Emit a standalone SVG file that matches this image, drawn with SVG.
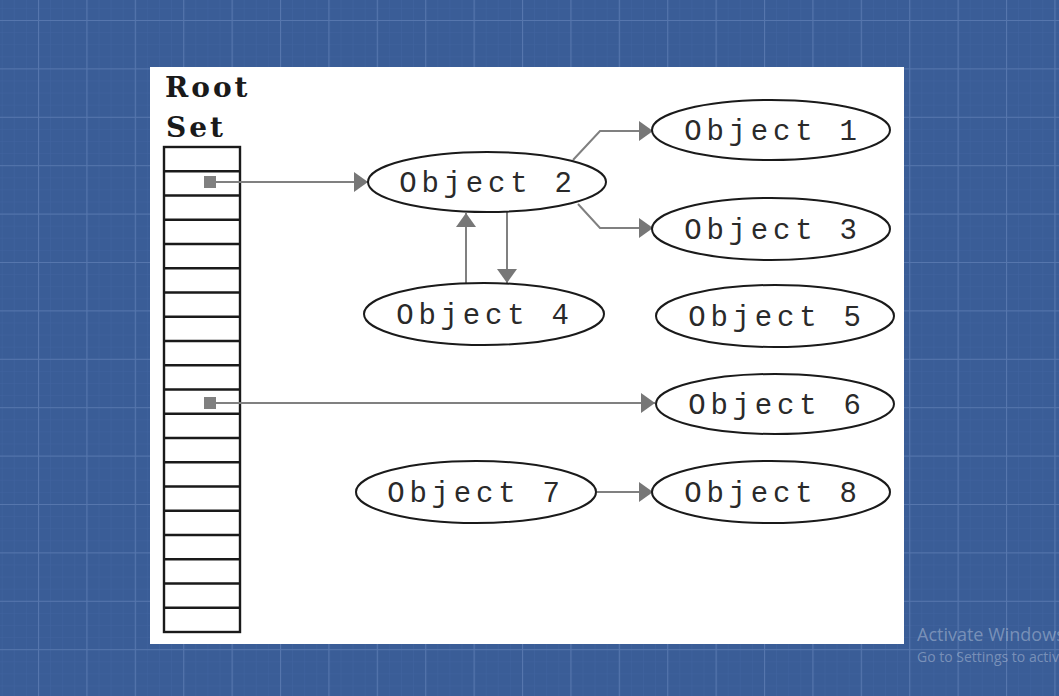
<svg xmlns="http://www.w3.org/2000/svg" width="1059" height="696" viewBox="0 0 1059 696">
  <defs>
    <pattern id="minor" x="38" y="20" width="12.1" height="12.1" patternUnits="userSpaceOnUse">
      <path d="M0,0 H12.1 M0,0 V12.1" fill="none" stroke="#4164a0" stroke-width="1"/>
    </pattern>
    <pattern id="major" x="38" y="20" width="48.4" height="48.4" patternUnits="userSpaceOnUse">
      <path d="M0,0.5 H48.4 M0.5,0 V48.4" fill="none" stroke="#5676ad" stroke-width="1.2"/>
    </pattern>
    <marker id="arrow" viewBox="0 0 14 20" refX="14" refY="10" markerWidth="14" markerHeight="20" markerUnits="userSpaceOnUse" orient="auto">
      <path d="M0,0 L14,10 L0,20 z" fill="#777777"/>
    </marker>
  </defs>
  <style>
    .obj ellipse { fill: #ffffff; stroke: #1a1a1a; stroke-width: 2; }
    .obj text { font-family: "Liberation Mono", "DejaVu Sans Mono", monospace; font-size: 29px; letter-spacing: 4.8px; fill: #2a2a2a; text-anchor: middle; }
    .conn path { fill: none; stroke: #808080; stroke-width: 2; marker-end: url(#arrow); }
    .title { font-family: "DejaVu Serif", "Liberation Serif", serif; font-weight: bold; font-size: 28px; letter-spacing: 3px; fill: #1a1a1a; }
    .wm { font-family: "Open Sans", "Noto Sans", sans-serif; fill: #ffffff; fill-opacity: 0.33; }
  </style>

  <rect x="0" y="0" width="1059" height="696" fill="#3a5d97"/>
  <rect x="0" y="0" width="1059" height="696" fill="url(#minor)"/>
  <rect x="0" y="0" width="1059" height="696" fill="url(#major)"/>

  <rect x="150" y="67" width="754" height="577" fill="#ffffff"/>

  <g id="root-set">
    <text class="title" x="165" y="97">Root</text>
    <text class="title" x="166" y="137">Set</text>
    <rect x="164" y="147" width="76" height="485" fill="#ffffff" stroke="#1a1a1a" stroke-width="2.4"/>
    <path d="M164,171.25 H240 M164,195.5 H240 M164,219.75 H240 M164,244 H240 M164,268.25 H240 M164,292.5 H240 M164,316.75 H240 M164,341 H240 M164,365.25 H240 M164,389.5 H240 M164,413.75 H240 M164,438 H240 M164,462.25 H240 M164,486.5 H240 M164,510.75 H240 M164,535 H240 M164,559.25 H240 M164,583.5 H240 M164,607.75 H240" fill="none" stroke="#1a1a1a" stroke-width="2.4"/>
    <rect x="204" y="176" width="12" height="12" fill="#808080"/>
    <rect x="204" y="397" width="12" height="12" fill="#808080"/>
  </g>

  <g class="conn" id="connectors">
    <path d="M216,182 H368"/>
    <path d="M573,160 L600,131 H653"/>
    <path d="M578,204 L600,228 H653"/>
    <path d="M466,283 V213"/>
    <path d="M507,212 V283"/>
    <path d="M216,403 H655"/>
    <path d="M597,492 H653"/>
  </g>

  <g class="obj" id="object1"><ellipse cx="771" cy="130" rx="119" ry="30"/><text x="773" y="140">Object 1</text></g>
  <g class="obj" id="object2"><ellipse cx="487" cy="182" rx="119" ry="30"/><text x="488" y="192">Object 2</text></g>
  <g class="obj" id="object3"><ellipse cx="771" cy="229" rx="119" ry="31"/><text x="773" y="239">Object 3</text></g>
  <g class="obj" id="object4"><ellipse cx="484" cy="314" rx="120" ry="31"/><text x="485" y="324">Object 4</text></g>
  <g class="obj" id="object5"><ellipse cx="775" cy="316" rx="119" ry="31"/><text x="777" y="326">Object 5</text></g>
  <g class="obj" id="object6"><ellipse cx="775" cy="404" rx="119" ry="30"/><text x="777" y="414">Object 6</text></g>
  <g class="obj" id="object7"><ellipse cx="476" cy="492" rx="120" ry="31"/><text x="476" y="502">Object 7</text></g>
  <g class="obj" id="object8"><ellipse cx="771" cy="492" rx="119" ry="31"/><text x="773" y="502">Object 8</text></g>

  <g id="watermark">
    <text class="wm" x="917" y="641" font-size="18">Activate Windows</text>
    <text class="wm" x="917" y="662" font-size="14">Go to Settings to activate Windows.</text>
  </g>
</svg>
